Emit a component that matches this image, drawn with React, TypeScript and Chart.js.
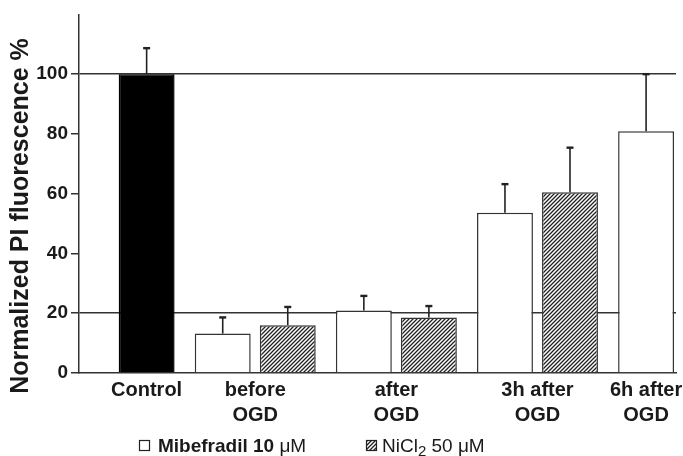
import React, { useEffect, useRef } from "react";
import { Chart, registerables } from "chart.js";

Chart.register(...registerables);

// ---------- data ----------
const categoryLabels: string[][] = [
  ["Control"],
  ["before", "OGD"],
  ["after", "OGD"],
  ["3h after", "OGD"],
  ["6h after", "OGD"],
];
const seriesNames = ["Control", "Mibefradil 10 μM", "NiCl2 50 μM"];
const controlValues: (number | null)[] = [100, null, null, null, null];
const controlErrors: (number | null)[] = [8.7, null, null, null, null];
const mibefradilValues: (number | null)[] = [null, 13.2, 20.9, 53.6, 80.9];
const mibefradilErrors: (number | null)[] = [null, 5.4, 4.9, 9.6, 19.1];
const nicl2Values: (number | null)[] = [null, 16.0, 18.6, 60.5, null];
const nicl2Errors: (number | null)[] = [null, 6.1, 3.8, 14.9, null];
const yTickValues = [0, 20, 40, 60, 80, 100];
const yAxisMax = 120;
const referenceLevels = [20, 100];
const yAxisTitle = "Normalized PI fluorescence %";

// ---------- layout / style constants ----------
const FONT = "'Liberation Sans', Arial, Helvetica, sans-serif";
const INK = "#1a1a1a";
const LINE = "#333333";
const GROUP_GAP = 0.17;
const LEFT_PAD_SLOTS = 1.04;
const RIGHT_PAD_SLOTS = 0.46;

const series = [
  { name: seriesNames[0], values: controlValues, errors: controlErrors, kind: "solid" },
  { name: seriesNames[1], values: mibefradilValues, errors: mibefradilErrors, kind: "open" },
  { name: seriesNames[2], values: nicl2Values, errors: nicl2Errors, kind: "hatch" },
];

// slot positions: bars placed one after another, with an extra gap between categories
const slotX: (number | null)[][] = series.map(() => categoryLabels.map(() => null));
const groupCenters: number[] = [];
(() => {
  let slot = 0;
  categoryLabels.forEach((_, ci) => {
    const xs: number[] = [];
    series.forEach((s, si) => {
      if (s.values[ci] != null) {
        const x = slot + ci * GROUP_GAP;
        slotX[si][ci] = x;
        xs.push(x);
        slot++;
      }
    });
    groupCenters.push((xs[0] + xs[xs.length - 1]) / 2);
  });
})();
const allX = slotX.flat().filter((v) => v != null) as number[];
const xMin = Math.min(...allX) - LEFT_PAD_SLOTS;
const xMax = Math.max(...allX) + RIGHT_PAD_SLOTS;

function makeHatch(): CanvasPattern | string {
  const c = document.createElement("canvas");
  const s = 4;
  c.width = s;
  c.height = s;
  const g = c.getContext("2d");
  if (!g) return "#888";
  g.fillStyle = "#ffffff";
  g.fillRect(0, 0, s, s);
  g.strokeStyle = "#222";
  g.lineWidth = 1.3;
  g.beginPath();
  g.moveTo(-1, s + 1);
  g.lineTo(s + 1, -1);
  g.moveTo(-1, 1);
  g.lineTo(1, -1);
  g.moveTo(s - 1, s + 1);
  g.lineTo(s + 1, s - 1);
  g.stroke();
  const p = g.createPattern(c, "repeat");
  return p || "#888";
}

const errorBarPlugin = {
  id: "errorBars",
  afterDatasetsDraw(chart: any) {
    const ctx = chart.ctx;
    const yScale = chart.scales.y;
    chart.data.datasets.forEach((ds: any, di: number) => {
      const meta = chart.getDatasetMeta(di);
      meta.data.forEach((bar: any, i: number) => {
        const raw = ds.data[i];
        if (!raw || raw.err == null) return;
        const yTop = yScale.getPixelForValue(raw.y + raw.err);
        ctx.save();
        ctx.strokeStyle = "#222";
        ctx.lineWidth = 1.6;
        ctx.beginPath();
        ctx.moveTo(bar.x, bar.y);
        ctx.lineTo(bar.x, yTop);
        ctx.stroke();
        ctx.lineWidth = 2.4;
        ctx.beginPath();
        ctx.moveTo(bar.x - 3.5, yTop);
        ctx.lineTo(bar.x + 3.5, yTop);
        ctx.stroke();
        ctx.restore();
      });
    });
  },
};

const titleAndLegendPlugin = {
  id: "titleAndLegend",
  afterDraw(chart: any) {
    const ctx = chart.ctx;
    // rotated y-axis title
    ctx.save();
    ctx.translate(28, 216);
    ctx.rotate(-Math.PI / 2);
    ctx.fillStyle = INK;
    ctx.font = `bold 25px ${FONT}`;
    ctx.textAlign = "center";
    ctx.textBaseline = "alphabetic";
    ctx.fillText(yAxisTitle, 0, 0);
    ctx.restore();

    // legend
    const baseY = 452;
    ctx.save();
    ctx.textAlign = "left";
    ctx.textBaseline = "alphabetic";
    // item 1: open square
    ctx.fillStyle = "#fff";
    ctx.strokeStyle = "#222";
    ctx.lineWidth = 1.2;
    ctx.fillRect(139.5, 440.5, 10, 10);
    ctx.strokeRect(139.5, 440.5, 10, 10);
    ctx.fillStyle = INK;
    const [mibMain, mibUnit] = [seriesNames[1].replace(" μM", " "), "μM"];
    let x = 158;
    ctx.font = `bold 19px ${FONT}`;
    ctx.fillText(mibMain, x, baseY);
    x += ctx.measureText(mibMain).width;
    ctx.font = `19px ${FONT}`;
    ctx.fillText(mibUnit, x, baseY);

    // item 2: hatched square
    ctx.fillStyle = chart.$hatch;
    ctx.fillRect(366.5, 440.5, 10, 10);
    ctx.strokeRect(366.5, 440.5, 10, 10);
    ctx.fillStyle = INK;
    const niName = seriesNames[2];
    const subIdx = niName.indexOf("2");
    const pre = niName.slice(0, subIdx);
    const sub = niName.slice(subIdx, subIdx + 1);
    const post = niName.slice(subIdx + 1);
    x = 382;
    ctx.font = `19px ${FONT}`;
    ctx.fillText(pre, x, baseY);
    x += ctx.measureText(pre).width;
    ctx.font = `15px ${FONT}`;
    ctx.fillText(sub, x, baseY + 4);
    x += ctx.measureText(sub).width;
    ctx.font = `19px ${FONT}`;
    ctx.fillText(post, x, baseY);
    ctx.restore();
  },
};

export default function App() {
  const canvasRef = useRef<HTMLCanvasElement | null>(null);

  useEffect(() => {
    const canvas = canvasRef.current;
    if (!canvas) return;
    const hatch = makeHatch();
    const fills = { solid: "#000000", open: "#ffffff", hatch };
    const borders = { solid: "#000000", open: LINE, hatch: LINE };

    const datasets = series.map((s, si) => ({
      label: s.name,
      data: s.values
        .map((v, ci) => (v == null ? null : { x: slotX[si][ci], y: v, err: s.errors[ci] }))
        .filter((d) => d != null),
      backgroundColor: (fills as any)[s.kind],
      borderColor: (borders as any)[s.kind],
      borderWidth: 1.5,
      grouped: false,
      barPercentage: 0.86,
      categoryPercentage: 1,
    }));

    const chart: any = new Chart(canvas, {
      type: "bar",
      data: { datasets: datasets as any },
      options: {
        animation: false,
        responsive: false,
        devicePixelRatio: 1,
        layout: { padding: { left: 0, top: 13, right: 7, bottom: 0 } },
        plugins: {
          legend: { display: false },
          tooltip: { enabled: false },
        },
        scales: {
          x: {
            type: "linear",
            offset: false,
            min: xMin,
            max: xMax,
            afterBuildTicks: (scale: any) => {
              scale.ticks = groupCenters.map((v) => ({ value: v }));
            },
            afterFit: (scale: any) => {
              scale.height = 83;
              scale.paddingLeft = 0;
              scale.paddingRight = 0;
            },
            ticks: {
              autoSkip: false,
              maxRotation: 0,
              minRotation: 0,
              padding: 5,
              color: INK,
              font: { family: FONT, size: 20, weight: "bold", lineHeight: 1.25 },
              callback: (_v: any, index: number) => categoryLabels[index],
            },
            grid: { display: false, drawTicks: false, offset: false },
            border: { display: true, color: LINE, width: 1.5 },
          },
          y: {
            min: 0,
            max: yAxisMax,
            afterBuildTicks: (scale: any) => {
              scale.ticks = [...yTickValues, yAxisMax].map((v) => ({ value: v }));
            },
            afterFit: (scale: any) => {
              scale.width = 79;
            },
            ticks: {
              padding: 3,
              color: INK,
              font: { family: FONT, size: 19, weight: "bold" },
              callback: (v: any) => (yTickValues.includes(Number(v)) ? String(v) : ""),
            },
            grid: {
              color: (c: any) =>
                c.tick && referenceLevels.includes(c.tick.value) ? LINE : "rgba(0,0,0,0)",
              lineWidth: 1.5,
              tickLength: 8,
              tickWidth: 1.5,
              tickColor: (c: any) =>
                c.tick && yTickValues.includes(c.tick.value) ? LINE : "rgba(0,0,0,0)",
            },
            border: { display: true, color: LINE, width: 1.5 },
          },
        },
      },
      plugins: [errorBarPlugin, titleAndLegendPlugin],
    });
    chart.$hatch = hatch;
    chart.draw();

    return () => chart.destroy();
  }, []);

  return (
    <div
      style={{
        position: "fixed",
        left: 0,
        top: 0,
        width: 683,
        height: 456,
        background: "#ffffff",
      }}
    >
      <canvas ref={canvasRef} width={683} height={456} style={{ display: "block" }} />
    </div>
  );
}
